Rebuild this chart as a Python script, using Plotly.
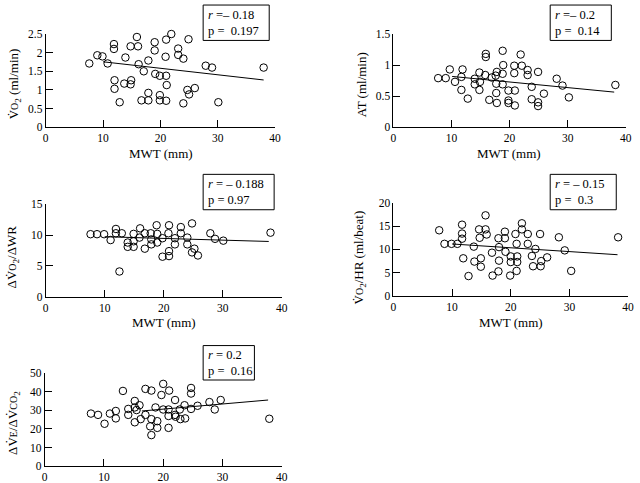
import plotly.graph_objects as go

W, H = 640, 483
FONT = "Liberation Serif"

# ---------------- data ----------------
p1_x = [7.6, 9.0, 9.9, 10.8, 11.9, 11.9, 12.0, 12.0, 12.9, 13.9, 13.7, 14.8, 14.9, 14.8, 15.9, 16.1,
        16.2, 16.7, 17.1, 17.9, 17.9, 17.9, 19.0, 19.0, 19.1, 19.9, 19.9, 19.9, 21.0, 20.9, 21.0, 21.1,
        21.0, 21.9, 21.9, 23.1, 23.1, 24.0, 24.0, 24.9, 24.7, 25.0, 26.0, 27.9, 29.0, 30.1, 38.0]
p1_y = [1.71, 1.93, 1.90, 1.71, 2.23, 2.10, 1.26, 1.03, 0.67, 1.87, 1.17, 2.17, 1.26, 1.15, 2.42, 2.17,
        1.69, 0.72, 1.50, 1.79, 0.92, 0.72, 2.28, 2.06, 1.43, 1.38, 0.86, 0.72, 2.35, 1.89, 1.38, 1.13,
        0.71, 2.60, 2.50, 2.11, 1.94, 1.84, 0.64, 2.36, 1.00, 0.88, 1.05, 1.65, 1.60, 0.67, 1.60]
p1_fit_x = [10.0, 38.0]
p1_fit_y = [1.755, 1.267]

p2_x = [7.7, 9.0, 9.7, 10.6, 11.9, 11.7, 11.7, 12.8, 14.0, 14.0, 14.8, 14.9, 14.8, 15.8, 15.9, 15.9,
        16.5, 16.9, 17.6, 17.8, 17.7, 17.7, 17.8, 18.8, 18.9, 18.8, 18.8, 19.8, 19.8, 19.8, 20.8, 20.8,
        20.9, 20.9, 21.9, 22.1, 23.1, 23.1, 23.8, 23.8, 24.9, 24.9, 24.9, 25.9, 28.1, 29.1, 30.2, 38.2]
p2_y = [0.79, 0.79, 0.93, 0.73, 0.93, 0.81, 0.60, 0.46, 0.69, 0.78, 0.88, 0.73, 0.60, 0.84, 1.18, 1.13,
        0.44, 0.80, 0.83, 0.89, 0.70, 0.55, 0.39, 1.23, 1.00, 0.86, 0.69, 0.59, 0.43, 0.39, 0.99, 0.87,
        0.59, 0.35, 1.17, 0.99, 0.92, 0.84, 0.65, 0.45, 0.89, 0.40, 0.34, 0.54, 0.78, 0.67, 0.48, 0.68]
p2_fit_x = [10.1, 38.0]
p2_fit_y = [0.817, 0.565]

p3_x = [7.6, 8.7, 9.9, 11.0, 11.9, 11.9, 12.9, 12.5, 13.9, 13.9, 14.9, 14.9, 14.9, 16.0, 15.9, 16.8,
        16.8, 17.8, 17.9, 17.9, 18.8, 18.9, 18.9, 19.8, 19.8, 20.9, 20.8, 20.9, 20.9, 21.9, 21.9, 22.9,
        22.9, 24.0, 24.0, 24.8, 24.8, 25.2, 25.8, 27.9, 28.7, 30.1, 38.1]
p3_y = [10.15, 10.15, 10.15, 9.2, 11.0, 10.3, 10.3, 4.1, 8.8, 8.1, 10.2, 9.0, 8.1, 11.1, 9.6, 10.3,
        7.8, 10.3, 9.3, 8.5, 11.6, 10.2, 8.8, 9.5, 6.5, 11.6, 10.3, 7.4, 6.6, 9.5, 8.5, 11.3,
        10.3, 9.6, 8.5, 11.9, 7.2, 7.8, 6.7, 10.3, 9.4, 9.1, 10.4]
p3_fit_x = [10.0, 37.8]
p3_fit_y = [9.74, 8.97]

p4_x = [7.8, 8.7, 9.9, 10.9, 11.7, 11.7, 11.7, 11.9, 12.8, 13.7, 13.8, 14.6, 14.7, 14.9, 14.9, 15.7,
        15.7, 15.9, 16.8, 16.9, 17.9, 18.0, 18.0, 17.9, 19.0, 19.0, 19.1, 20.0, 20.0, 19.9, 20.8, 21.0,
        21.1, 21.1, 21.0, 21.9, 21.9, 22.9, 22.9, 23.6, 23.8, 24.2, 25.0, 25.2, 25.1, 26.2, 28.2, 29.2,
        30.3, 38.3]
p4_y = [14.1, 11.2, 11.2, 11.2, 15.3, 13.4, 12.3, 8.1, 4.3, 10.6, 7.4, 14.3, 12.5, 8.1, 6.3, 17.3,
        14.3, 13.2, 9.3, 4.4, 12.4, 10.5, 7.6, 5.3, 13.8, 12.4, 9.5, 8.5, 7.3, 4.4, 13.3, 11.2,
        8.5, 7.3, 5.4, 15.6, 14.3, 13.3, 11.2, 8.6, 6.4, 10.1, 13.3, 7.5, 6.4, 8.3, 12.6, 9.8,
        5.4, 12.6]
p4_fit_x = [10.0, 38.2]
p4_fit_y = [11.17, 8.87]

p5_x = [7.8, 9.0, 10.1, 11.0, 12.0, 12.0, 13.2, 14.1, 14.1, 15.2, 15.2, 15.2, 15.5, 16.0, 16.2, 17.0,
        17.0, 18.0, 18.0, 17.8, 18.0, 18.7, 19.0, 19.0, 19.7, 20.0, 20.0, 20.9, 21.0, 20.9, 20.9, 20.9,
        22.0, 22.0, 22.1, 22.8, 22.9, 23.6, 23.7, 24.7, 24.7, 24.7, 25.8, 27.8, 28.7, 29.7, 37.9]
p5_y = [28.3, 27.6, 22.8, 28.3, 29.7, 25.7, 40.5, 30.8, 27.6, 35.1, 31.6, 23.6, 30.2, 32.8, 25.3, 41.6,
        27.6, 40.7, 25.3, 21.4, 16.7, 31.6, 24.2, 20.6, 38.3, 44.3, 30.5, 51.0, 40.7, 30.5, 27.0, 20.6,
        35.6, 27.6, 26.6, 30.5, 25.3, 32.8, 25.7, 42.1, 39.1, 30.8, 32.5, 34.5, 30.5, 35.6, 25.5]
p5_fit_x = [16.4, 37.7]
p5_fit_y = [29.7, 35.6]

x_ticks = [0, 10, 20, 30, 40]
y1_ticks = [0, 0.5, 1, 1.5, 2, 2.5]
y2_ticks = [0, 0.5, 1, 1.5]
y3_ticks = [0, 5, 10, 15]
y4_ticks = [0, 5, 10, 15, 20]
y5_ticks = [0, 10, 20, 30, 40, 50]

stats = [
    ("<i>r</i> =\u2013 0.18", "p =\u00a0 0.197"),
    ("<i>r</i> =\u2013 0.2", "p =\u00a0 0.14"),
    ("<i>r</i> = \u2013 0.188", "p = 0.97"),
    ("<i>r</i> = \u2013 0.15", "p =\u00a0 0.3"),
    ("<i>r</i> = 0.2", "p =\u00a0 0.16"),
]

sm = "<span style='font-size:10px'>"
y_titles = [
    "V\u0307" + sm + "O</span><sub>2</sub> (ml/min)",
    "AT (ml/min)",
    "\u0394V\u0307" + sm + "O</span><sub>2</sub>/\u0394WR",
    "V\u0307" + sm + "O</span><sub>2</sub>/HR (ml/beat)",
    "\u0394V\u0307" + sm + "E</span>/\u0394V\u0307" + sm + "CO</span><sub>2</sub>",
]

# ---------------- layout geometry (screen pixels) ----------------
# (x0px, x40px, y0px, ytop_px)
geo = [
    (43.3, 276.0, 126.7, 29.3),
    (396.0, 631.7, 126.7, 29.3),
    (43.3, 282.7, 304.0, 207.3),
    (396.0, 634.0, 303.3, 205.7),
    (42.3, 282.7, 481.0, 384.0),
]
yranges = [[0, 2.5], [0, 1.5], [0, 15], [0, 20], [0, 50]]
yticks = [y1_ticks, y2_ticks, y3_ticks, y4_ticks, y5_ticks]
data = [(p1_x, p1_y, p1_fit_x, p1_fit_y), (p2_x, p2_y, p2_fit_x, p2_fit_y),
        (p3_x, p3_y, p3_fit_x, p3_fit_y), (p4_x, p4_y, p4_fit_x, p4_fit_y),
        (p5_x, p5_y, p5_fit_x, p5_fit_y)]
# stats boxes: left px, top px, width px, height px
boxes = [(203, -1, 67, 37), (555, -1, 62, 37), (203, 176, 72, 37), (555, 176, 67, 37), (203, 355, 52, 36)]
# y-title centers (x px, y px)
ytitle_pos = [(12, 81), (364, 82), (10, 262), (362, 263), (10, 436)]
# x-title centers
xtitle_pos = [(160, 154), (513, 154), (163, 331), (515, 331), None]

def px(x):
    return x / W

def py(y):
    return 1 - y / H

fig = go.Figure()
layout = dict(width=W, height=H, autosize=False, margin=dict(l=0, r=0, t=0, b=0),
              paper_bgcolor="white", plot_bgcolor="white", showlegend=False,
              font=dict(family=FONT, size=11.5, color="black"))
annotations = []
shapes = []

for i in range(5):
    n = "" if i == 0 else str(i + 1)
    xa, ya = "xaxis" + n, "yaxis" + n
    x0, x1, y0, y1 = geo[i]
    common = dict(showgrid=False, zeroline=False, showline=True, linecolor="black", linewidth=1,
                  ticks="inside", ticklen=7, tickwidth=1, tickcolor="black",
                  ticklabeloverflow="allow",
                  tickfont=dict(family=FONT, size=11.5, color="black"))
    layout[xa] = dict(domain=[px(x0), px(x1)], range=[0, 40], tickvals=x_ticks,
                      anchor="y" + n, **common)
    layout[ya] = dict(domain=[py(y0), py(y1)], range=yranges[i], tickvals=yticks[i],
                      anchor="x" + n, **common)
    xs, ys, fx, fy = data[i]
    fig.add_trace(go.Scatter(x=xs, y=ys, mode="markers", xaxis="x" + n, yaxis="y" + n,
                             cliponaxis=False,
                             marker=dict(symbol="circle-open", size=7.5, color="black",
                                         line=dict(width=1, color="black"))))
    fig.add_trace(go.Scatter(x=fx, y=fy, mode="lines", xaxis="x" + n, yaxis="y" + n,
                             line=dict(color="black", width=1)))
    # stats box
    bl, bt, bw, bh = boxes[i]
    shapes.append(dict(type="rect", xref="paper", yref="paper", x0=px(bl), x1=px(bl + bw),
                       y0=py(bt + bh), y1=py(bt), line=dict(color="black", width=1),
                       fillcolor="white", layer="above"))
    annotations.append(dict(xref="paper", yref="paper", x=px(bl + 3), y=py(bt + bh / 2),
                            xanchor="left", yanchor="middle", align="left", showarrow=False,
                            text=stats[i][0] + "<br>" + stats[i][1],
                            font=dict(family=FONT, size=12.5, color="black")))
    # titles
    tx, ty = ytitle_pos[i]
    annotations.append(dict(xref="paper", yref="paper", x=px(tx), y=py(ty), textangle=-90,
                            xanchor="center", yanchor="middle", showarrow=False,
                            text=y_titles[i], font=dict(family=FONT, size=13, color="black")))
    if xtitle_pos[i] is not None:
        tx, ty = xtitle_pos[i]
        annotations.append(dict(xref="paper", yref="paper", x=px(tx), y=py(ty),
                                xanchor="center", yanchor="middle", showarrow=False,
                                text="MWT (mm)", font=dict(family=FONT, size=13, color="black")))

layout["annotations"] = annotations
layout["shapes"] = shapes
fig.update_layout(**layout)
# remove the browser's default 8px body margin so the figure sits at the page origin
fig.write_html("out.html", config={"displayModeBar": False},
               post_script="document.body.style.margin='0';document.body.style.overflow='hidden';")
